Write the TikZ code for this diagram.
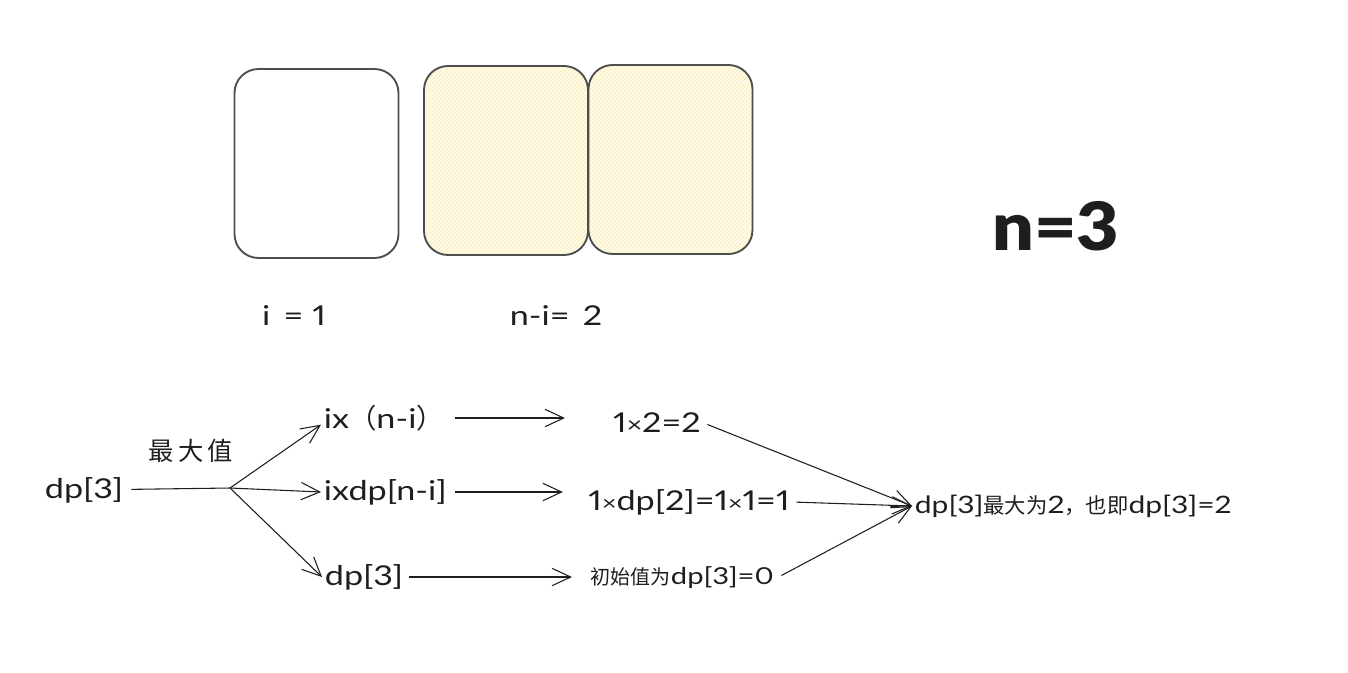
\documentclass[tikz,border=0pt]{standalone}
\usepackage{fontspec}
\setmainfont{Lato}
\newfontfamily\hand[FakeStretch=1.25,Numbers=Proportional]{Lato}
\newfontfamily\handbold[FakeStretch=1.1]{Lato Black}
\newfontfamily\cjk{Noto Sans CJK SC}
\usetikzlibrary{arrows.meta,patterns}

\definecolor{ink}{HTML}{1E1E1E}
\definecolor{boxline}{HTML}{4D4D4D}
\definecolor{hatchbg}{HTML}{FFFCEE}
\definecolor{hatch}{HTML}{FCEBA6}

\newcommand{\hsz}[1]{\fontsize{#1}{#1}\selectfont}

\tikzset{
  cell/.style={draw=boxline, line width=1.4pt, rounded corners=18pt,
    minimum width=123pt, minimum height=141.75pt, inner sep=0pt},
  shaded/.style={cell, preaction={fill=hatchbg},
    pattern={north east lines}, pattern color=hatch},
  lbl/.style={text=ink, inner sep=2pt, font=\hand\hsz{20.5}},
  ln/.style={draw=ink, line width=0.8pt},
  arr/.style={ln, -{Straight Barb[length=14pt, width=13pt, line width=0.8pt]}},
}

\begin{document}
\begin{tikzpicture}[x=0.75pt, y=-0.75pt]
  \useasboundingbox (0,0) rectangle (1348,672);

  % the three unit pieces of n = 3
  \node[cell]   (c1) at (316.5,163.5) {};
  \node[shaded] (c2) at (506,160.5) {};
  \node[shaded] (c3) at (670.5,159.5) {};

  \node[text=ink, inner sep=0pt, font=\handbold\hsz{50}] (nval) at (1056,226) {n=3};

  \node[lbl] (li)  at (294,316) {i \,= 1};
  \node[lbl] (lni) at (556,316) {n-i= \,2};

  % recurrence for dp[3]
  \node[lbl] (dp) at (84,490) {dp[3]};
  \coordinate (fork) at (230,488);
  \node[text=ink, inner sep=0pt, font=\cjk\hsz{19}] (mx) at (191,451) {最\,大\,值};

  \node[lbl, anchor=west] (a1) at (321,418) {ix{\cjk（}n-i{\cjk）}};
  \node[lbl, anchor=west] (a2) at (321,492) {ixdp[n-i]};
  \node[lbl, anchor=west] (a3) at (322,577) {dp[3]};

  \node[lbl] (b1) at (657,423) {1{\hsz{16}×}2=2};
  \node[lbl] (b2) at (689,502) {1{\hsz{15}×}dp[2]=1{\hsz{15}×}1=1};
  \node[lbl, anchor=west] (b3) at (588,578)
    {{\cjk\hsz{15}初始值为}{\hsz{17.5}dp[3]=0}};

  \node[lbl, anchor=west] (res) at (912,506)
    {{\hsz{18}dp[3]}{\cjk\hsz{16}最大为}{\hsz{18}2}{\cjk\hsz{16}，也即}{\hsz{18}dp[3]=2}};

  \draw[ln, shorten <=4pt] (dp) -- (fork);
  \draw[arr] (fork) -- ([yshift=-5pt]a1.west);
  \draw[arr] (fork) -- (a2.west);
  \draw[arr] (fork) -- (a3.west);

  \draw[arr, shorten <=6pt, shorten >=34pt] (a1.east) -- (a1.east -| b1.west);
  \draw[arr, shorten <=4pt, shorten >=17pt] (a2.east) -- (a2.east -| b2.west);
  \draw[arr, shorten <=2pt, shorten >=12pt] (a3.east) -- (a3.east -| b3.west);

  \draw[arr, shorten <=3pt] (b1.east) -- (res.west);
  \draw[arr, shorten <=3pt] (b2.east) -- (res.west);
  \draw[arr, shorten <=4pt] (b3.east) -- (res.west);
\end{tikzpicture}
\end{document}
